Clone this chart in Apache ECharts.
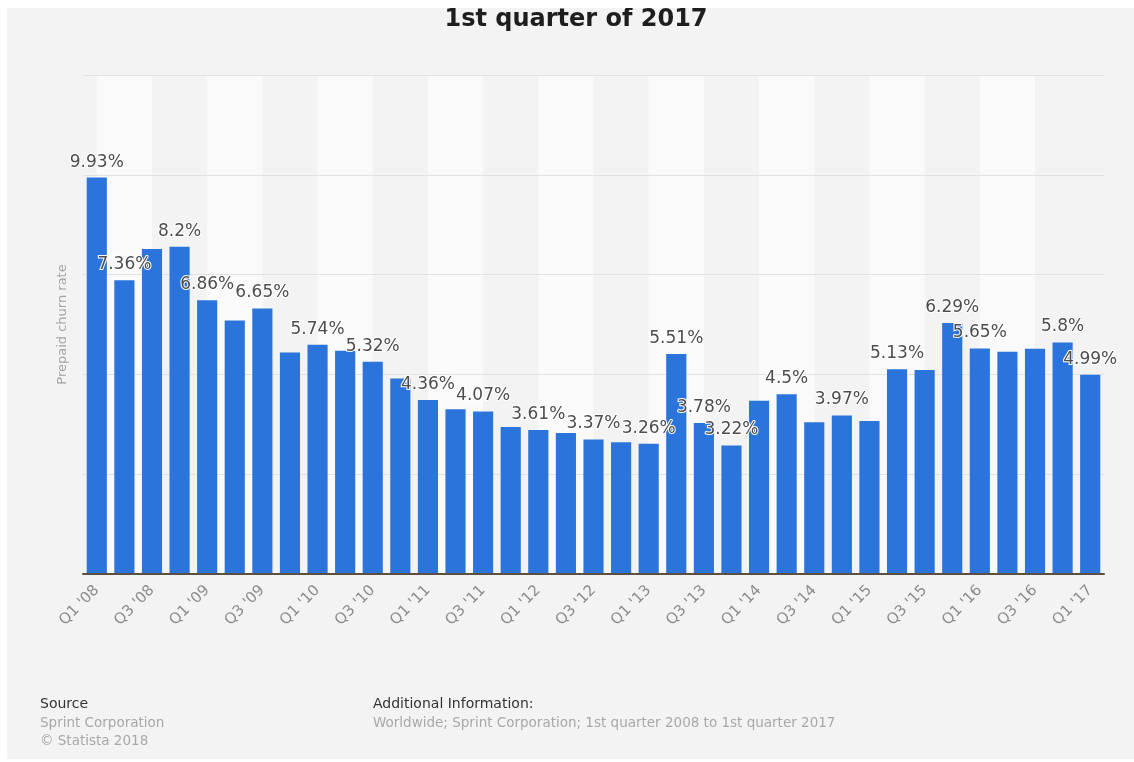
<!DOCTYPE html>
<html>
<head>
<meta charset="utf-8">
<script src="https://cdn.jsdelivr.net/npm/echarts@6/dist/echarts.min.js"></script>
<style>
  html, body { margin: 0; padding: 0; background: #ffffff; overflow: hidden; }
  #chart { position: absolute; left: 7px; top: 8px; width: 1127px; height: 751px; background: #f3f3f3; }
</style>
</head>
<body>
<div id="chart"></div>
<script>
// Quarterly prepaid churn rate, Sprint Corporation
const quarters = [
  "Q1 '08", "Q2 '08", "Q3 '08", "Q4 '08",
  "Q1 '09", "Q2 '09", "Q3 '09", "Q4 '09",
  "Q1 '10", "Q2 '10", "Q3 '10", "Q4 '10",
  "Q1 '11", "Q2 '11", "Q3 '11", "Q4 '11",
  "Q1 '12", "Q2 '12", "Q3 '12", "Q4 '12",
  "Q1 '13", "Q2 '13", "Q3 '13", "Q4 '13",
  "Q1 '14", "Q2 '14", "Q3 '14", "Q4 '14",
  "Q1 '15", "Q2 '15", "Q3 '15", "Q4 '15",
  "Q1 '16", "Q2 '16", "Q3 '16", "Q4 '16",
  "Q1 '17"
];

const churnRate = [
  9.93, 7.36, 8.14, 8.2,
  6.86, 6.35, 6.65, 5.55,
  5.74, 5.59, 5.32, 4.9,
  4.36, 4.13, 4.07, 3.68,
  3.61, 3.53, 3.37, 3.3,
  3.26, 5.51, 3.78, 3.22,
  4.34, 4.5, 3.8, 3.97,
  3.83, 5.13, 5.11, 6.29,
  5.65, 5.57, 5.64, 5.8,
  4.99
];

// Bars whose value is printed above them
const labelledIndices = [0, 1, 3, 4, 6, 8, 10, 12, 14, 16, 18, 20, 21, 22, 23, 25, 27, 29, 31, 32, 35, 36];

const yTicks = { min: 0, max: 12.5, step: 2.5 };

const BLUE = '#2b74db';
const FONT = 'DejaVu Sans';

const chart = echarts.init(document.getElementById('chart'));

const barData = churnRate.map((v, i) => ({
  value: v,
  label: { show: labelledIndices.includes(i) }
}));

// Light background bands, each spanning two quarters
const bands = [];
for (let i = 0; i + 2 < quarters.length; i += 4) {
  bands.push([{ xAxis: quarters[i] }, { xAxis: quarters[i + 2] }]);
}

chart.setOption({
  animation: false,
  grid: { left: 76, right: 30, top: 67, bottom: 185, containLabel: false },
  xAxis: {
    type: 'category',
    data: quarters,
    z: 4,
    axisLine: { show: true, lineStyle: { color: '#5a4f40', width: 2 } },
    axisTick: { show: false },
    axisLabel: {
      interval: 1,
      rotate: 45,
      margin: 14,
      color: '#8c8c8c',
      fontSize: 15,
      fontFamily: FONT
    },
    splitLine: { show: false }
  },
  yAxis: {
    type: 'value',
    min: yTicks.min,
    max: yTicks.max,
    interval: yTicks.step,
    z: 2,
    name: 'Prepaid churn rate',
    nameLocation: 'middle',
    nameGap: 14,
    nameTextStyle: { color: '#a3a3a3', fontSize: 13, fontFamily: FONT },
    axisLine: { show: false },
    axisTick: { show: false },
    axisLabel: { show: false },
    splitLine: { show: true, lineStyle: { color: '#e2e2e2', width: 1 } }
  },
  series: [
    {
      name: 'bands',
      type: 'line',
      data: [],
      z: 1,
      silent: true,
      markArea: {
        silent: true,
        itemStyle: { color: '#fafafa' },
        data: bands
      }
    },
    {
      name: 'Prepaid churn rate',
      type: 'bar',
      z: 3,
      data: barData,
      barCategoryGap: '27%',
      itemStyle: { color: BLUE },
      label: {
        show: false,
        position: 'top',
        distance: 7,
        formatter: p => p.value + '%',
        color: '#4d4d4d',
        fontSize: 17,
        fontFamily: FONT,
        textBorderColor: '#ffffff',
        textBorderWidth: 2
      }
    }
  ],
  graphic: [
    {
      type: 'text', x: 569, y: 0,
      style: {
        text: '1st quarter of 2017',
        align: 'center',
        font: 'bold 24px "DejaVu Sans"',
        fill: '#1e1e1e'
      }
    },
    {
      type: 'text', left: 33, top: 689,
      style: { text: 'Source', font: '14px "DejaVu Sans"', fill: '#333333' }
    },
    {
      type: 'text', left: 33, top: 708,
      style: { text: 'Sprint Corporation', font: '13.5px "DejaVu Sans"', fill: '#a8a8a8' }
    },
    {
      type: 'text', left: 33, top: 726,
      style: { text: '\u00a9 Statista 2018', font: '13.5px "DejaVu Sans"', fill: '#a8a8a8' }
    },
    {
      type: 'text', left: 366, top: 689,
      style: { text: 'Additional Information:', font: '14px "DejaVu Sans"', fill: '#333333' }
    },
    {
      type: 'text', left: 366, top: 708,
      style: { text: 'Worldwide; Sprint Corporation; 1st quarter 2008 to 1st quarter 2017', font: '13.5px "DejaVu Sans"', fill: '#a8a8a8' }
    }
  ]
});
</script>
</body>
</html>
